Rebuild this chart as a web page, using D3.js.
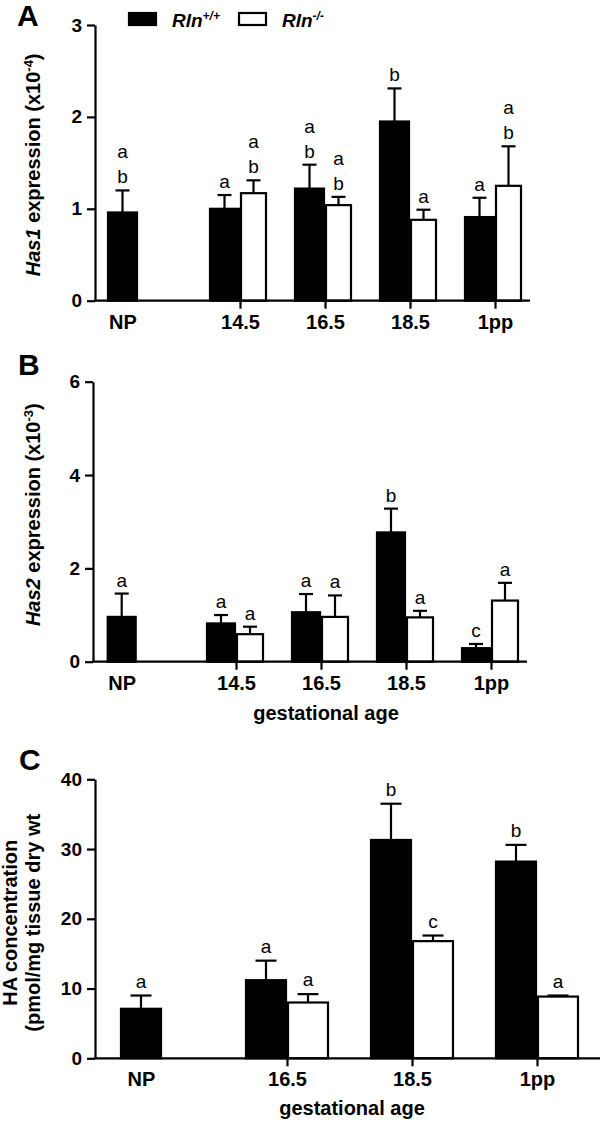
<!DOCTYPE html>
<html>
<head>
<meta charset="utf-8">
<script src="https://cdn.jsdelivr.net/npm/d3@7"></script>
<style>
  html, body { margin: 0; padding: 0; background: #fff; }
  svg { display: block; }
  text { font-family: "Liberation Sans", Arial, Helvetica, sans-serif; fill: #000; }
</style>
</head>
<body>
<svg id="chart" width="600" height="1121"></svg>
<script>
// ---------------- DATA ----------------
// Panel A: Has1 expression (x10^-4)
const catsA = ["NP", "14.5", "16.5", "18.5", "1pp"];
const has1Wt = [0.96, 1.00, 1.22, 1.95, 0.91];
const has1WtSem = [0.24, 0.15, 0.26, 0.36, 0.21];
const has1Ko = [null, 1.17, 1.04, 0.88, 1.25];
const has1KoSem = [null, 0.14, 0.09, 0.11, 0.43];
const has1WtSig = ["ab", "a", "ab", "b", "a"];
const has1KoSig = [null, "ab", "ab", "a", "ab"];
const ticksA = [0, 1, 2, 3];

// Panel B: Has2 expression (x10^-3)
const catsB = ["NP", "14.5", "16.5", "18.5", "1pp"];
const has2Wt = [0.96, 0.82, 1.06, 2.77, 0.29];
const has2WtSem = [0.50, 0.18, 0.39, 0.51, 0.09];
const has2Ko = [null, 0.59, 0.96, 0.95, 1.31];
const has2KoSem = [null, 0.16, 0.46, 0.14, 0.38];
const has2WtSig = ["a", "a", "a", "b", "c"];
const has2KoSig = [null, "a", "a", "a", "a"];
const ticksB = [0, 2, 4, 6];

// Panel C: HA concentration (pmol/mg tissue dry wt)
const catsC = ["NP", "16.5", "18.5", "1pp"];
const haWt = [7.1, 11.2, 31.3, 28.2];
const haWtSem = [1.9, 2.8, 5.2, 2.4];
const haKo = [null, 8.0, 16.8, 8.85];
const haKoSem = [null, 1.2, 0.8, 0.15];
const haWtSig = ["a", "a", "b", "b"];
const haKoSig = [null, "a", "c", "a"];
const ticksC = [0, 10, 20, 30, 40];

const seriesNames = ["Rln", "Rln"];
const seriesSup = ["+/+", "-/-"];

// ---------------- DRAWING ----------------
const svg = d3.select("#chart");
const FONT = '"Liberation Sans", Arial, Helvetica, sans-serif';

function panel(cfg) {
  const g = svg.append("g");
  const y = d3.scaleLinear().domain(cfg.yDomain).range([cfg.y0, cfg.y1]);
  const positions = cfg.cats.map((c, i) => i === 0 ? cfg.npX : cfg.gx0 + (i - 1) * cfg.step);
  const x = d3.scaleOrdinal().domain(cfg.cats).range(positions);

  const rows = cfg.cats.map((c, i) => ({
    c, i,
    wt: cfg.wt[i], wtSem: cfg.wtSem[i], wtSig: cfg.wtSig[i],
    ko: cfg.ko[i], koSem: cfg.koSem[i], koSig: cfg.koSig[i]
  }));

  const bars = [];
  rows.forEach(r => {
    if (r.ko == null) {
      bars.push({ x0: x(r.c) - cfg.bw / 2, w: cfg.bw, v: r.wt, sem: r.wtSem, sig: r.wtSig, fill: "#000" });
    } else {
      bars.push({ x0: x(r.c) - cfg.bw, w: cfg.bw, v: r.wt, sem: r.wtSem, sig: r.wtSig, fill: "#000" });
      bars.push({ x0: x(r.c), w: cfg.bw2, v: r.ko, sem: r.koSem, sig: r.koSig, fill: "#fff" });
    }
  });

  // error bars (upper only)
  const eb = g.append("g").attr("stroke", "#000").attr("stroke-width", 2.2);
  bars.forEach(b => {
    const cx = b.x0 + b.w / 2;
    eb.append("line").attr("x1", cx).attr("x2", cx).attr("y1", y(b.v)).attr("y2", y(b.v + b.sem));
    eb.append("line").attr("x1", cx - cfg.cap / 2).attr("x2", cx + cfg.cap / 2)
      .attr("y1", y(b.v + b.sem)).attr("y2", y(b.v + b.sem));
  });

  g.append("g").selectAll("rect").data(bars).join("rect")
    .attr("x", b => b.x0 + 1)
    .attr("y", b => y(b.v))
    .attr("width", b => b.w - 2)
    .attr("height", b => y(0) - y(b.v))
    .attr("fill", b => b.fill)
    .attr("stroke", "#000")
    .attr("stroke-width", 2.2);

  // significance letters
  bars.forEach(b => {
    const cx = b.x0 + b.w / 2;
    const top = y(b.v + b.sem) - cfg.letterGap;
    const letters = b.sig.split("");
    letters.reverse().forEach((L, k) => {
      g.append("text").attr("x", cx).attr("y", top - k * 25)
        .attr("text-anchor", "middle")
        .style("font-size", "19px")
        .text(L);
    });
  });

  // y axis
  const yAxis = d3.axisLeft(y).tickValues(cfg.ticks).tickFormat(d3.format("d"))
    .tickSize(8).tickPadding(5).tickSizeOuter(0);
  const ya = g.append("g").attr("transform", `translate(${cfg.axisX},0)`).call(yAxis);
  ya.select(".domain").attr("stroke-width", 2.2);
  ya.selectAll(".tick line").attr("stroke-width", 2.2);
  ya.selectAll(".tick text").style("font-family", FONT).style("font-size", "19px")
    .style("font-weight", "bold").attr("fill", "#000");

  // x axis
  const xAxis = d3.axisBottom(x).tickSize(8).tickPadding(5);
  const xa = g.append("g").attr("transform", `translate(0,${cfg.y0})`).call(xAxis);
  xa.select(".domain").remove();
  xa.selectAll(".tick line").attr("stroke-width", 2.2)
    .attr("display", d => d === "NP" ? "none" : null);
  xa.selectAll(".tick text").style("font-family", FONT).style("font-size", "20px")
    .style("font-weight", "bold").attr("fill", "#000").attr("y", 14);
  g.append("line").attr("x1", cfg.axisX - 1).attr("x2", cfg.xEnd)
    .attr("y1", cfg.y0).attr("y2", cfg.y0).attr("stroke", "#000").attr("stroke-width", 2.2);

  // panel letter
  g.append("text").attr("x", cfg.letterX).attr("y", cfg.letterY)
    .style("font-size", "30px").style("font-weight", "bold").text(cfg.letter);

  // y label
  const midY = (cfg.y0 + cfg.y1) / 2 + cfg.ylabDy;
  cfg.ylab.forEach(line => {
    const t = g.append("text")
      .attr("transform", `translate(${line.x},${midY}) rotate(-90)`)
      .attr("text-anchor", "middle")
      .style("font-size", "20px").style("font-weight", "bold");
    line.parts.forEach(p => {
      const ts = t.append("tspan").text(p.t);
      if (p.i) ts.style("font-style", "italic");
      if (p.sup) ts.attr("baseline-shift", "super").style("font-size", "13px");
    });
  });

  // x label
  if (cfg.xlab) {
    g.append("text").attr("x", cfg.xlabX).attr("y", cfg.xlabY)
      .attr("text-anchor", "middle")
      .style("font-size", "20px").style("font-weight", "bold")
      .text(cfg.xlab);
  }
  return g;
}

panel({
  cats: catsA, wt: has1Wt, wtSem: has1WtSem, ko: has1Ko, koSem: has1KoSem,
  wtSig: has1WtSig, koSig: has1KoSig, ticks: ticksA,
  yDomain: [0, 3], y0: 300.7, y1: 25,
  axisX: 95, xEnd: 530, npX: 122.5, gx0: 240, step: 85, bw: 31, bw2: 27, cap: 14, letterGap: 7,
  letter: "A", letterX: 17, letterY: 26, ylabDy: 2,
  ylab: [{ x: 40, parts: [{ t: "Has1", i: true }, { t: " expression (x10" }, { t: "-4", sup: true }, { t: ")" }] }],
  xlab: null
});

panel({
  cats: catsB, wt: has2Wt, wtSem: has2WtSem, ko: has2Ko, koSem: has2KoSem,
  wtSig: has2WtSig, koSig: has2KoSig, ticks: ticksB,
  yDomain: [0, 6], y0: 661.7, y1: 381.7,
  axisX: 93, xEnd: 527, npX: 121.7, gx0: 236, step: 85, bw: 30, bw2: 28, cap: 14, letterGap: 7,
  letter: "B", letterX: 18, letterY: 375, ylabDy: -7,
  ylab: [{ x: 40, parts: [{ t: "Has2", i: true }, { t: " expression (x10" }, { t: "-3", sup: true }, { t: ")" }] }],
  xlab: "gestational age", xlabX: 326, xlabY: 720
});

panel({
  cats: catsC, wt: haWt, wtSem: haWtSem, ko: haKo, koSem: haKoSem,
  wtSig: haWtSig, koSig: haKoSig, ticks: ticksC,
  yDomain: [0, 40], y0: 1058.3, y1: 779.3,
  axisX: 95, xEnd: 600, npX: 141, gx0: 287, step: 125, bw: 42, bw2: 42, cap: 21, letterGap: 8,
  letter: "C", letterX: 19, letterY: 770, ylabDy: 4,
  ylab: [
    { x: 17, parts: [{ t: "HA concentration" }] },
    { x: 40, parts: [{ t: "(pmol/mg tissue dry wt" }] }
  ],
  xlab: "gestational age", xlabX: 352, xlabY: 1115
});

// legend (panel A)
const legend = svg.append("g");
const legX = [128, 238];
const legFill = ["#000", "#fff"];
seriesNames.forEach((nm, i) => {
  legend.append("rect").attr("x", legX[i] + 1).attr("y", 13).attr("width", 27).attr("height", 12)
    .attr("fill", legFill[i]).attr("stroke", "#000").attr("stroke-width", 2.2);
  const t = legend.append("text").attr("x", legX[i] + 44).attr("y", 26.5)
    .style("font-size", "19px").style("font-weight", "bold").style("font-style", "italic");
  t.append("tspan").text(nm);
  t.append("tspan").attr("dy", -7).style("font-size", "12px").text(seriesSup[i]);
});
</script>
</body>
</html>
